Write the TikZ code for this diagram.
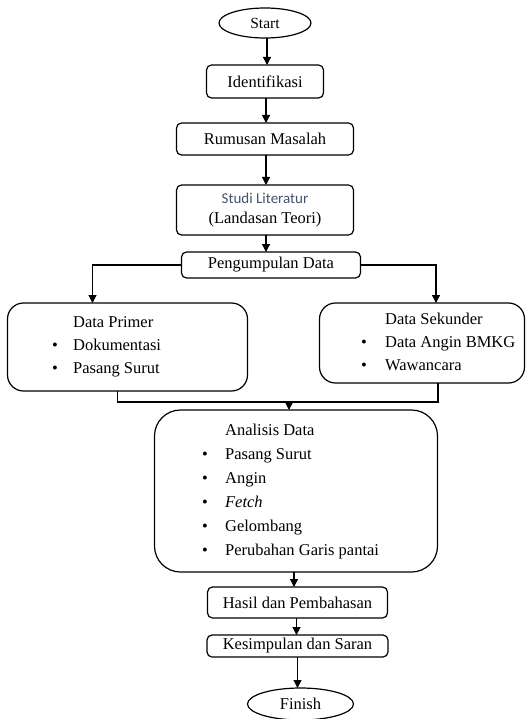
\documentclass[tikz,border=0pt]{standalone}
\usepackage{fontspec}
\setmainfont{Liberation Serif}
\newfontfamily\calibrifont{Carlito}
\usetikzlibrary{positioning, arrows.meta, shapes.geometric}
\definecolor{studiblue}{HTML}{44546A}
\newcommand{\flowitem}{\makebox[23pt][l]{\textbullet}}

\begin{document}
\begin{tikzpicture}[
    x=1pt,
    y=-1pt,
    font=\fontsize{16.5}{19}\selectfont,
    line width=1.2pt,
    terminal/.style={
        ellipse,
        draw,
        inner sep=0pt,
        outer sep=0pt
    },
    box/.style={
        rectangle,
        rounded corners=5pt,
        draw,
        align=center,
        inner sep=0pt,
        outer sep=0pt
    },
    bigbox/.style={
        rectangle,
        rounded corners=16pt,
        draw,
        inner sep=0pt,
        outer sep=0pt
    },
    listtext/.style={
        align=left,
        inner sep=0pt,
        anchor=north west
    },
    arrow/.style={-{Triangle[length=8pt, width=8pt]}},
    line/.style={-}
]

\useasboundingbox (0,0) rectangle (527,719);

% Start and first steps
\node[terminal, minimum width=92pt, minimum height=30pt] (start) at (265,23) {\fontsize{15.5}{17}\selectfont Start};
\node[box, below=27pt of start, minimum width=117pt, minimum height=33pt] (ident) {Identifikasi};
\node[box, below=25pt of ident, minimum width=177pt, minimum height=32pt] (rumusan) {Rumusan Masalah};
\node[box, below=30pt of rumusan, minimum width=177pt, minimum height=50pt] (studi) {%
    {\calibrifont\fontsize{15}{16}\selectfont\color{studiblue}Studi Literatur}\\[1pt]
    (Landasan Teori)};
\node[box, below=17pt of studi, xshift=6pt, minimum width=179pt, minimum height=26pt] (kumpul) {Pengumpulan Data};

% Data sources
\node[bigbox, below=25pt of kumpul, xshift=-143.5pt, minimum width=240pt, minimum height=88pt] (primer) {};
\node[bigbox, below=25pt of kumpul, xshift=151pt, minimum width=205pt, minimum height=80pt] (sekunder) {};

\node[listtext] (primertext) at ([xshift=44pt, yshift=-13pt]primer.north west) {%
    \hspace*{21pt}Data Primer\\[4pt]
    \makebox[21pt][l]{\textbullet}Dokumentasi\\[4pt]
    \makebox[21pt][l]{\textbullet}Pasang Surut};
\node[listtext] (sekundertext) at ([xshift=41pt, yshift=-9pt]sekunder.north west) {%
    \hspace*{24pt}Data Sekunder\\[4pt]
    \makebox[24pt][l]{\textbullet}Data Angin BMKG\\[4pt]
    \makebox[24pt][l]{\textbullet}Wawancara};

% Analysis
\node[bigbox, rounded corners=26pt, below=132pt of kumpul, xshift=25pt, minimum width=283pt, minimum height=162pt] (analisis) {};
\node[listtext] (analisistext) at ([xshift=47pt, yshift=-13pt]analisis.north west) {%
    \hspace*{23pt}Analisis Data\\[5pt]
    \flowitem Pasang Surut\\[5pt]
    \flowitem Angin\\[5pt]
    \flowitem\textit{Fetch}\\[5pt]
    \flowitem Gelombang\\[5pt]
    \flowitem Perubahan Garis pantai};

% Results and end
\node[box, below=15pt of analisis, xshift=1.5pt, minimum width=180pt, minimum height=31pt] (hasil) {Hasil dan Pembahasan};
\node[box, below=17pt of hasil, minimum width=181pt, minimum height=22pt] (kesimpulan) {Kesimpulan dan Saran};
\node[terminal, below=31pt of kesimpulan, xshift=3pt, minimum width=106pt, minimum height=32pt] (finish) {Finish};

% Main flow
\draw[arrow] ([xshift=2pt]start.south) -- ([xshift=2pt]start.south |- ident.north);
\draw[arrow] ([xshift=1pt]ident.south) -- ([xshift=1pt]ident.south |- rumusan.north);
\draw[arrow] ([xshift=1pt]rumusan.south) -- ([xshift=1pt]rumusan.south |- studi.north);
\draw[arrow] ([xshift=1pt]studi.south) -- ([xshift=1pt]studi.south |- kumpul.north);

% Split into data sources
\draw[arrow] (kumpul.west) -| ([xshift=-35pt]primer.north);
\draw[arrow] (kumpul.east) -| ([xshift=14pt]sekunder.north);

% Merge into analysis
\coordinate (join) at (289,402);
\draw[line] ([xshift=-10pt]primer.south) |- ([xshift=16pt]sekunder.south |- join) -- ([xshift=16pt]sekunder.south);
\draw[arrow] (join) -- (join |- analisis.north);

\draw[arrow] ([xshift=-2pt]analisis.south) -- ([xshift=-2pt]analisis.south |- hasil.north);
\draw[arrow] ([xshift=-1pt]hasil.south) -- ([xshift=-1pt]hasil.south |- kesimpulan.north);
\draw[arrow] ([xshift=-3pt]finish.north |- kesimpulan.south) -- ([xshift=-3pt]finish.north);

\end{tikzpicture}
\end{document}
